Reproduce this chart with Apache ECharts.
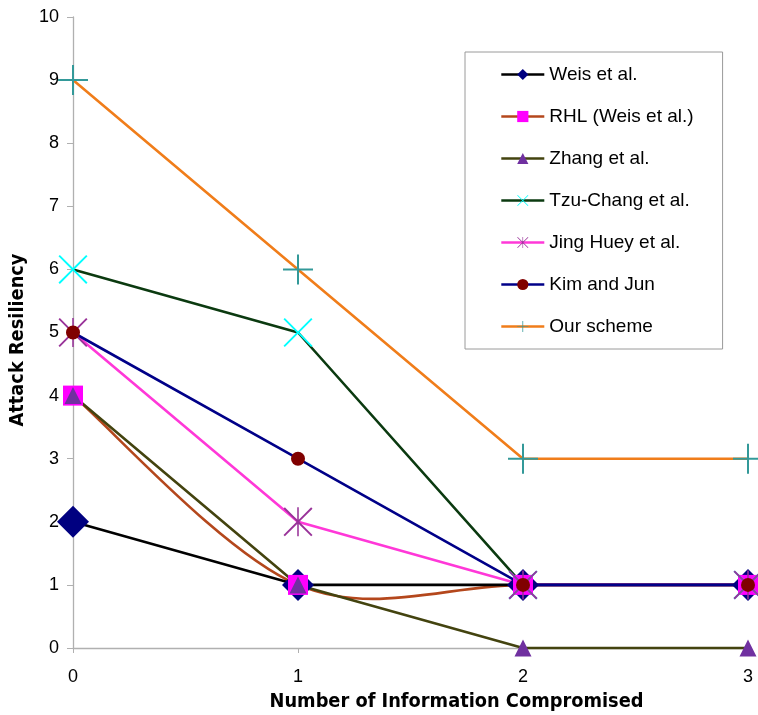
<!DOCTYPE html>
<html><head><meta charset="utf-8">
<script src="https://cdn.jsdelivr.net/npm/echarts@6/dist/echarts.min.js"></script>
<style>html,body{margin:0;padding:0;background:#fff}#c{width:758px;height:715px}</style>
</head><body><div id="c"></div>
<script>
var xValues = [0, 1, 2, 3];
var seriesNames = ['Weis et al.', 'RHL (Weis et al.)', 'Zhang et al.', 'Tzu-Chang et al.', 'Jing Huey et al.', 'Kim and Jun', 'Our scheme'];
var weis = [2, 1, 1, 1];
var rhl = [4, 1, 1, 1];
var zhang = [4, 1, 0, 0];
var tzuChang = [6, 5, 1, 1];
var jingHuey = [5, 2, 1, 1];
var kimJun = [5, 3, 1, 1];
var ourScheme = [9, 6, 3, 3];
var yTicks = [0,1,2,3,4,5,6,7,8,9,10];

var PLUS = 'path://M14,0h2v14h14v2h-14v14h-2v-14h-14v-2h14z';
var CROSS = 'path://M0,1.4L1.4,0L15,13.6L28.6,0L30,1.4L16.4,15L30,28.6L28.6,30L15,16.4L1.4,30L0,28.6L13.6,15z';
var STAR = 'path://M0,1.4L1.4,0L15,13.6L28.6,0L30,1.4L16.4,15L30,28.6L28.6,30L15,16.4L1.4,30L0,28.6L13.6,15zM14.2,0h1.6v30h-1.6z';

function pts(arr){ return xValues.map(function(x,i){ return [x, arr[i]]; }); }

var defs = [
  {data: weis, line: '#000000', mark: '#000080', symbol: 'diamond', size: 32},
  {data: rhl, line: '#b4471c', mark: '#ff00ff', symbol: 'rect', size: 20, curved: true},
  {data: zhang, line: '#43430f', mark: '#7030a0', symbol: 'triangle', size: 17},
  {data: tzuChang, line: '#0b3a10', mark: '#00ffff', symbol: CROSS, size: 29},
  {data: jingHuey, line: '#ff38d8', mark: '#993399', symbol: STAR, size: 29},
  {data: kimJun, line: '#000088', mark: '#800000', symbol: 'circle', size: 14},
  {data: ourScheme, line: '#f07d1a', mark: '#339999', symbol: PLUS, size: 30}
];

// Excel-style smoothed line (Catmull-Rom Bezier) drawn through the axis scales
function smoothSeries(values, color) {
  var P = pts(values);
  return {
    type: 'custom', silent: true, clip: false, animation: false,
    data: P.slice(0, P.length - 1).map(function(p, i){ return [i]; }),
    encode: {x: -1, y: -1},
    renderItem: function(params, api) {
      var i = params.dataIndex;
      var p0 = P[Math.max(i - 1, 0)], p1 = P[i], p2 = P[i + 1], p3 = P[Math.min(i + 2, P.length - 1)];
      var c1 = [p1[0] + (p2[0] - p0[0]) / 6, p1[1] + (p2[1] - p0[1]) / 6];
      var c2 = [p2[0] - (p3[0] - p1[0]) / 6, p2[1] - (p3[1] - p1[1]) / 6];
      var a = api.coord(p1), b = api.coord(c1), c = api.coord(c2), d = api.coord(p2);
      return {
        type: 'bezierCurve',
        shape: {x1: a[0], y1: a[1], cpx1: b[0], cpy1: b[1], cpx2: c[0], cpy2: c[1], x2: d[0], y2: d[1]},
        style: {stroke: color, lineWidth: 2.6, fill: null}
      };
    }
  };
}

var series = [];
var legendData = [];
defs.forEach(function(d, i){
  if (d.curved) series.push(smoothSeries(d.data, d.line));
  series.push({
    name: seriesNames[i], type: 'line', data: pts(d.data),
    symbol: d.symbol, symbolSize: d.size, showAllSymbol: true,
    lineStyle: {color: d.line, width: 2.6, opacity: d.curved ? 0 : 1},
    itemStyle: {color: d.mark, borderWidth: 0},
    emphasis: {disabled: true},
    clip: false, animation: false
  });
  legendData.push({name: seriesNames[i], lineStyle: {color: d.line, width: 2.6, opacity: 1}});
});

var chart = echarts.init(document.getElementById('c'));
chart.setOption({
  animation: false,
  grid: {left: 73, right: 10, top: 17, bottom: 67, containLabel: false, outerBoundsMode: 'none'},
  legend: {
    orient: 'vertical', left: 465, top: 52,
    padding: [13, 29, 13, 35], itemGap: 23,
    itemWidth: 43, itemHeight: 14,
    borderColor: '#9a9a9a', borderWidth: 1,
    textStyle: {fontFamily: 'Liberation Sans', fontSize: 19, color: '#000'},
    data: legendData
  },
  xAxis: {
    type: 'value', min: 0, max: 3, interval: 1,
    name: 'Number of Information Compromised', nameLocation: 'middle', nameGap: 44,
    nameTextStyle: {fontFamily: 'DejaVu Sans Condensed, Liberation Sans', fontWeight: 'bold', fontSize: 19.8, color: '#000', padding: [0, 0, 0, 92]},
    axisLine: {lineStyle: {color: '#b0b0b0', width: 1.3}},
    axisTick: {show: true, length: 5, lineStyle: {color: '#b0b0b0'}},
    axisLabel: {fontFamily: 'Liberation Sans', fontSize: 18, color: '#000', margin: 20},
    splitLine: {show: false}
  },
  yAxis: {
    type: 'value', min: yTicks[0], max: yTicks[yTicks.length-1], interval: 1,
    name: 'Attack Resiliency', nameLocation: 'middle', nameGap: 42, nameRotate: 90,
    nameTextStyle: {fontFamily: 'DejaVu Sans Condensed, Liberation Sans', fontWeight: 'bold', fontSize: 19.8, color: '#000', padding: [0, 15, 0, 0]},
    axisLine: {show: true, lineStyle: {color: '#b0b0b0', width: 1.3}},
    axisTick: {show: true, length: 6, lineStyle: {color: '#b0b0b0'}},
    axisLabel: {fontFamily: 'Liberation Sans', fontSize: 18, color: '#000', margin: 14},
    splitLine: {show: false}
  },
  series: series
});
</script></body></html>
